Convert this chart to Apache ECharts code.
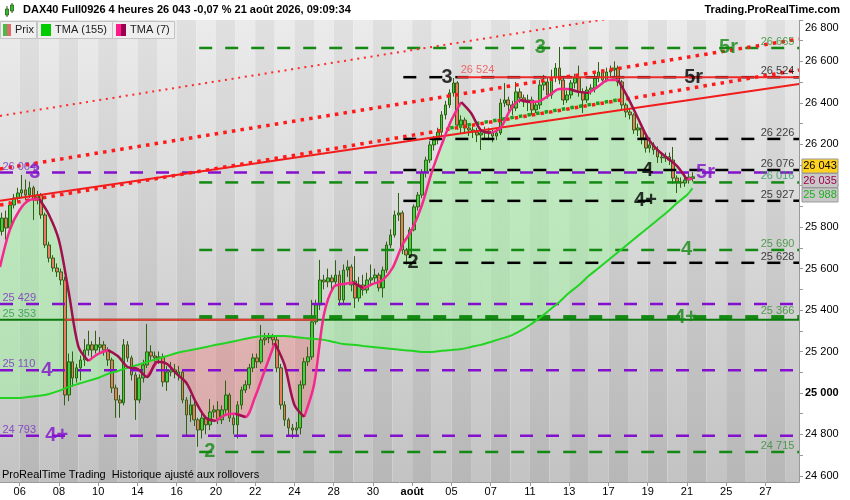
<!DOCTYPE html>
<html><head><meta charset="utf-8">
<script src="https://cdn.jsdelivr.net/npm/echarts@6/dist/echarts.min.js"></script>
<style>html,body{margin:0;padding:0;background:#fff}#c{width:850px;height:500px}</style>
</head><body><div id="c"></div>
<script>
// ---------- DATA ----------
const dayLabels = ['03','06','07','08','09','10','13','14','15','16','17','20','21','22','23','24','27','28','29','30','31','août','04','05','06','07','10','11','12','13','14','17','18','19','20','21','24','25','26','27','28'];
const labelDays = [1,3,5,7,9,11,13,15,17,19,21,23,25,27,29,31,33,35,37,39];
const yTicks = [24600,24800,25000,25200,25400,25600,25800,26000,26200,26400,26600,26800];
const yTickMarks = [24600,24700,24800,24900,25000,25100,25200,25300,25400,25500,25600,25700,25800,25900,26000,26100,26200,26300,26400,26500,26600,26700,26800];
const candlesPerDay = 5;
// [open, close, low, high] for each 4h bar
const candles = [
[25780,25844,25760,25870],[25844,25796,25740,25880],[25796,25907,25790,25925],[25907,25941,25890,25960],[25941,25965,25925,25990],
[25965,25980,25945,26052],[25980,25955,25930,26030],[25955,25990,25940,26020],[25990,25931,25835,26000],[25931,25955,25910,25975],
[25955,25859,25840,25965],[25859,25714,25700,25870],[25714,25651,25630,25730],[25651,25603,25585,25665],[25603,25584,25560,25625],
[25584,25545,25520,25600],[25545,24990,24940,25560],[24990,25150,24960,25190],[25150,25072,25030,25200],[25072,25121,25050,25140],
[25121,25159,25060,25180],[25159,25207,25130,25260],[25207,25232,25180,25300],[25232,25207,25170,25250],[25207,25232,25190,25300],
[25220,25232,25190,25270],[25232,25207,25180,25250],[25207,25159,25130,25220],[25159,25024,25000,25170],[25024,24966,24880,25040],
[24966,24952,24880,24990],[24952,25232,24940,25260],[25232,25169,25150,25250],[25169,25087,25060,25180],[25087,24966,24870,25100],
[24966,25072,24950,25090],[25072,25135,25050,25160],[25135,25198,25120,25333],[25198,25178,25160,25230],[25178,25169,25150,25200],
[25169,25174,25140,25200],[25174,25053,25030,25190],[25053,25101,25010,25130],[25101,25111,25080,25150],[25111,25101,25070,25140],
[25085,25101,25060,25130],[25101,24966,24950,25110],[24966,24894,24788,24980],[24894,24942,24860,24990],[24942,24870,24840,24960],
[24870,24821,24740,24880],[24821,24879,24780,24900],[24879,24846,24800,24890],[24846,24908,24820,24970],[24908,24918,24880,24940],
[24918,24870,24850,24960],[24870,24918,24850,24940],[24918,24990,24900,25060],[24990,24879,24860,25000],[24879,24846,24800,24900],
[24846,24942,24780,24960],[24942,25014,24920,25030],[25014,25039,25000,25060],[25039,25121,25020,25140],[25121,25169,25100,25190],
[25169,25150,25120,25190],[25150,25256,25140,25328],[25256,25265,25230,25290],[25265,25270,25240,25290],[25270,25256,25230,25285],
[25256,25121,25100,25270],[25121,24942,24920,25140],[24942,24870,24840,24960],[24870,24831,24790,24880],[24831,24821,24780,24850],
[24821,24831,24790,24860],[24831,25039,24800,25060],[25039,25150,25020,25170],[25150,25174,25130,25222],[25174,25343,25160,25449],
[25343,25425,25330,25450],[25425,25545,25400,25642],[25545,25536,25500,25570],[25536,25555,25510,25600],[25555,25536,25490,25570],
[25536,25569,25520,25640],[25569,25449,25420,25590],[25449,25593,25430,25620],[25593,25608,25560,25640],[25608,25521,25490,25620],
[25540,25458,25410,25660],[25458,25521,25440,25560],[25521,25497,25470,25570],[25497,25545,25480,25580],[25545,25555,25520,25620],
[25555,25569,25530,25600],[25569,25507,25490,25580],[25507,25593,25460,25610],[25593,25714,25580,25730],[25714,25762,25700,25790],
[25762,25859,25750,25880],[25859,25869,25830,25965],[25869,25690,25670,25880],[25690,25666,25620,25700],[25666,25787,25650,25800],
[25787,25898,25780,25910],[25898,25955,25880,25970],[25955,26066,25940,26080],[26066,26124,26040,26140],[26124,26197,26110,26215],
[26197,26221,26170,26240],[26221,26259,26200,26280],[26259,26342,26240,26360],[26342,26390,26320,26410],[26390,26448,26375,26465],
[26448,26496,26430,26520],[26496,26293,26270,26505],[26293,26317,26250,26340],[26317,26279,26250,26330],[26279,26269,26240,26290],
[26269,26259,26230,26290],[26259,26245,26210,26280],[26245,26255,26173,26275],[26255,26264,26230,26285],[26264,26255,26220,26280],
[26255,26240,26210,26270],[26240,26255,26220,26275],[26255,26399,26245,26420],[26399,26414,26380,26496],[26414,26390,26360,26430],
[26390,26375,26340,26410],[26375,26453,26360,26501],[26453,26424,26400,26470],[26424,26404,26380,26440],[26404,26414,26360,26440],
[26414,26366,26340,26430],[26366,26390,26350,26410],[26390,26486,26370,26510],[26486,26501,26460,26535],[26501,26438,26420,26520],
[26438,26520,26420,26560],[26520,26568,26500,26592],[26568,26510,26490,26670],[26510,26414,26390,26530],[26414,26438,26400,26460],
[26438,26496,26420,26510],[26496,26520,26470,26540],[26520,26453,26430,26580],[26453,26414,26351,26470],[26414,26462,26400,26480],
[26462,26472,26440,26490],[26472,26520,26450,26540],[26520,26549,26500,26597],[26549,26510,26490,26560],[26510,26549,26500,26570],
[26549,26559,26520,26580],[26559,26568,26530,26600],[26568,26501,26480,26580],[26501,26390,26370,26510],[26390,26356,26330,26400],
[26356,26342,26320,26370],[26342,26269,26250,26350],[26269,26279,26240,26300],[26279,26231,26200,26290],[26231,26182,26160,26240],
[26182,26197,26160,26220],[26197,26173,26150,26210],[26173,26139,26110,26190],[26139,26134,26110,26160],[26134,26139,26115,26160],
[26139,26124,26100,26160],[26124,26037,26010,26187],[26037,26018,25965,26050],[26018,26013,25990,26040],[26013,26028,25995,26060],
[26028,26042,26010,26060],[26035,26043,26020,26065]
];
// moving averages, read at half-day steps (time in trading days since 3 July)
const tmaTime = [0,0.5,1,1.5,2,2.5,3,3.5,4,4.5,5,5.5,6,6.5,7,7.5,8,8.5,9,9.5,10,10.5,11,11.5,12,12.5,13,13.5,14,14.5,15,15.5,16,16.5,17,17.5,18,18.5,19,19.5,20,20.5,21,21.5,22,22.5,23,23.5,24,24.5,25,25.5,26,26.5,27,27.5,28,28.5,29,29.5,30,30.5,31,31.5,32,32.5,33,33.5,34,34.5,35,35.28];
const tma7 = [25608,25787,25883,25931,25936,25859,25738,25487,25222,25154,25188,25207,25178,25125,25116,25077,25150,25140,25092,25048,24952,24879,24865,24894,24899,24884,24981,25111,25241,25135,24942,24884,25039,25376,25511,25526,25531,25507,25526,25545,25603,25714,25791,25907,26066,26197,26317,26404,26351,26269,26255,26279,26366,26414,26404,26409,26438,26467,26467,26453,26448,26481,26510,26510,26424,26327,26231,26173,26134,26095,26030,26035];
const tma155 = [24976,24976,24976,24981,24986,24995,25010,25029,25044,25058,25072,25092,25106,25121,25135,25150,25164,25178,25193,25203,25212,25222,25232,25241,25251,25261,25270,25275,25275,25275,25270,25265,25261,25256,25246,25236,25232,25227,25222,25217,25212,25207,25203,25198,25198,25203,25207,25212,25222,25232,25246,25261,25275,25299,25328,25362,25400,25439,25483,25521,25565,25603,25642,25680,25719,25758,25796,25835,25873,25917,25955,25988];
const levelsPurple = [26064, 25429, 25110, 24793];
const levelsGreen = [26665, 26016, 25690, 25366, 24715];
const levelsBlack = [26524, 26226, 26076, 25927, 25628];
const supportLevel = 25353;
const resistanceLevel = 26524;
const lastPrice = 26043, lastTma7 = 26035, lastTma155 = 25988;
// trend lines [time, price]
const trendSolid = [[0,25927],[40.71,26491]];
const channelLow = [[0,25907],[40.71,26559]];
const channelHigh = [[0,26081],[40.71,26708]];
const channelTop = [[0,26337],[40.71,26953]];
const greenDots = [[22.94,26279],[31.46,26414]];
// wave annotations: text, colour group, time, price
const waveLabels = [
 ['3','P',1.77,26064],['4','P',2.38,25110],['4+','P',2.89,24793],['2','G',10.69,24715],
 ['3','G',27.53,26665],['5r','G',37.12,26665],['3','K',22.78,26524],['5r','K',35.34,26524],
 ['4','K',32.99,26076],['5r','P',35.95,26064],['4+','K',32.89,25927],['4','G',34.98,25690],
 ['2','K',21.05,25628],['4+','G',34.93,25366]
];

// ---------- CHART ----------
const FF = '"Liberation Sans", Arial, sans-serif';
const X_MAX = 40.71;
const COL = {P:'#8210cc', G:'#148a14', K:'#000000'};
const fmt = v => String(v).replace(/\B(?=(\d{3})+(?!\d))/g, ' ');
const chart = echarts.init(document.getElementById('c'), null, {renderer:'canvas'});

const candleData = candles.map((c, i) => {
  const d = Math.floor(i / candlesPerDay), k = i % candlesPerDay;
  return [d + (k + 0.5) / candlesPerDay, c[0], c[1], c[2], c[3]];
});
const nT = tmaTime.length;
const fillData = [];
for (let i = 0; i < nT - 1; i++) fillData.push([tmaTime[i], tmaTime[i+1], tma7[i], tma7[i+1], tma155[i], tma155[i+1]]);
const rise = [], fall = [];
for (let i = 0; i < nT; i++) {
  const r1 = i > 0 && tma7[i] >= tma7[i-1], r2 = i < nT-1 && tma7[i+1] >= tma7[i];
  const f1 = i > 0 && tma7[i] < tma7[i-1], f2 = i < nT-1 && tma7[i+1] < tma7[i];
  rise.push([tmaTime[i], (r1||r2) ? tma7[i] : null]);
  fall.push([tmaTime[i], (f1||f2) ? tma7[i] : null]);
}
const bandData = [];
for (let d = 0; d <= 41; d++) bandData.push([d, 25000]);

function renderBand(params, api) {
  const d = api.value(0), cs = params.coordSys;
  let x0 = api.coord([d, 25000])[0], x1 = api.coord([d + 1, 25000])[0];
  x0 = Math.max(x0, cs.x); x1 = Math.min(x1, cs.x + cs.width);
  if (x1 <= x0) return;
  const light = d % 2 === 0;
  return {type:'rect', shape:{x:x0, y:cs.y, width:x1 - x0, height:cs.height},
    style:{fill:new echarts.graphic.LinearGradient(0,0,0,1,[
      {offset:0, color: light ? '#ebebeb' : '#e0e0e0'},
      {offset:1, color: light ? '#c3c3c3' : '#b7b7b7'}])}};
}
function renderFill(params, api) {
  const u0 = api.value(0), u1 = api.value(1), a0 = api.value(2), a1 = api.value(3), b0 = api.value(4), b1 = api.value(5);
  const A0 = api.coord([u0,a0]), A1 = api.coord([u1,a1]), B0 = api.coord([u0,b0]), B1 = api.coord([u1,b1]);
  const G = 'rgba(160,245,160,0.5)', R = 'rgba(255,120,120,0.35)';
  const d0 = a0 - b0, d1 = a1 - b1;
  if (d0 * d1 >= 0) {
    return {type:'polygon', shape:{points:[A0,A1,B1,B0]}, style:{fill:(d0 + d1) >= 0 ? G : R}};
  }
  const t = d0 / (d0 - d1);
  const P = [A0[0] + (A1[0]-A0[0])*t, A0[1] + (A1[1]-A0[1])*t];
  return {type:'group', children:[
    {type:'polygon', shape:{points:[A0,P,B0]}, style:{fill:d0 > 0 ? G : R}},
    {type:'polygon', shape:{points:[P,A1,B1]}, style:{fill:d1 > 0 ? G : R}}]};
}
function hLine(price, start, end, color, width, dash, z) {
  return {type:'line', data:[[start, price],[end, price]], symbol:'none', silent:true, z:z||3,
    lineStyle:{color, width, type:dash, cap:'butt'}, animation:false};
}
function tLine(pts, color, width, dash, z) {
  return {type:'line', data:pts, symbol:'none', silent:true, z:z||4,
    lineStyle:{color, width, type:dash, cap:'butt'}, animation:false};
}
const DASH = [13,13];
const GREEN_START = 10.15, BLACK_START = 20.55;
const series = [];
series.push({type:'custom', renderItem:renderBand, data:bandData, encode:{x:0,y:1}, silent:true, z:0, clip:true});
series.push({type:'custom', renderItem:renderFill, data:fillData, encode:{x:[0,1], y:[2,3,4,5]}, silent:true, z:1, clip:true});
series.push({type:'candlestick', data:candleData, encode:{x:0, y:[1,2,3,4]}, barWidth:3.2, z:2, silent:true,
  itemStyle:{color:'#40d240', color0:'#ea7a62', borderColor:'#2f6014', borderColor0:'#2f6014', borderWidth:1}});
levelsPurple.forEach(p => series.push(hLine(p, 0, X_MAX, COL.P, 2.5, DASH)));
levelsGreen.forEach(p => series.push(hLine(p, GREEN_START, X_MAX, COL.G, p === 25366 ? 4 : 2.5, DASH)));
levelsBlack.forEach(p => series.push(hLine(p, BLACK_START, X_MAX, '#000', 2.5, DASH)));
series.push(hLine(supportLevel, 0, X_MAX, '#0b7a0b', 2, 'solid'));
series.push(hLine(supportLevel, 3.3, 16.15, '#e83a3a', 2, 'solid'));
series.push(hLine(resistanceLevel, 23.3, X_MAX, '#ee2a2a', 2, 'solid'));
series.push(tLine(trendSolid, '#f21c1c', 2, 'solid'));
series.push(tLine(channelLow, '#ff1a1a', 3.5, [3.5,5.2]));
series.push(tLine(channelHigh, '#ff1a1a', 3.5, [3.5,5.2]));
series.push(tLine(channelTop, '#ff2a2a', 2, [2,4.7]));
series.push(tLine(greenDots, '#18a018', 3.5, [3.5,5.2]));
series.push({type:'line', data:tmaTime.map((t,i)=>[t, tma155[i]]), symbol:'none', smooth:0.3, z:5, silent:true,
  lineStyle:{color:'#22d422', width:2}});
series.push({type:'line', data:rise, symbol:'none', smooth:0.3, z:6, silent:true, connectNulls:false,
  lineStyle:{color:'#f5288c', width:2.5}});
series.push({type:'line', data:fall, symbol:'none', smooth:0.3, z:6, silent:true, connectNulls:false,
  lineStyle:{color:'#a0104f', width:2.5}});

// text labels
const txt = [];
const small = (u, p, text, color, pos, off) => txt.push({value:[u,p], label:{show:true, formatter:text, color,
  fontSize:11, fontFamily:FF, position:pos, distance:0, offset:off}});
const RIGHT_U = 40.50, LEFT_U = 0.1;
levelsGreen.forEach(p => small(RIGHT_U, p, fmt(p), p === 26016 ? '#2a9a5e' : '#2f8f2f', 'left', [0,-6]));
levelsBlack.forEach(p => small(RIGHT_U, p, fmt(p), '#111', 'left', [0,-6]));
levelsPurple.forEach(p => small(LEFT_U, p, fmt(p), '#7a2cc4', 'right', [0,-6]));
small(LEFT_U, supportLevel, fmt(supportLevel), '#2a9a4a', 'right', [0,-6]);
small(23.45, resistanceLevel, fmt(resistanceLevel), '#f04848', 'right', [0,-7]);
waveLabels.forEach(w => txt.push({value:[w[2], w[3]], label:{show:true, formatter:w[0], color:COL[w[1]],
  fontSize:20, fontWeight:'bold', fontFamily:FF, position:'inside'}}));
series.push({type:'scatter', data:txt, symbolSize:1, itemStyle:{color:'rgba(0,0,0,0)'}, z:7, silent:true, clip:false});

const option = {
  animation:false,
  backgroundColor:'#ffffff',
  grid:{left:0, right:51, top:20, bottom:18},
  xAxis:{type:'value', min:0, max:X_MAX,
    axisLine:{show:true, onZero:false, lineStyle:{color:'#9a9a9a'}},
    axisTick:{show:true, length:4, lineStyle:{color:'#9a9a9a'}, customValues:labelDays},
    axisLabel:{customValues:labelDays, margin:4, color:'#000', fontSize:11, fontFamily:FF,
      formatter:v => { const s = dayLabels[Math.round(v)] || ''; return s === 'août' ? '{b|août}' : s; },
      rich:{b:{fontWeight:'bold', fontSize:11, fontFamily:FF, color:'#000'}}},
    splitLine:{show:false}},
  yAxis:{type:'value', position:'right', min:24570, max:26800,
    axisLine:{show:true, onZero:false, lineStyle:{color:'#9a9a9a'}},
    axisTick:{show:true, inside:false, length:4, lineStyle:{color:'#9a9a9a'}, customValues:yTickMarks},
    axisLabel:{customValues:yTicks, margin:6, color:'#000', fontSize:11, fontFamily:FF,
      formatter:v => v === 25000 ? '{b|' + fmt(v) + '}' : (v === 26800 ? '{t|' + fmt(v) + '}' : fmt(v)),
      rich:{b:{fontWeight:'bold', fontSize:11, fontFamily:FF, color:'#000'},
            t:{fontSize:11, fontFamily:FF, color:'#000', padding:[16,0,0,0]}}},
    splitLine:{show:false}},
  series
};
chart.setOption(option);

// header, legend, footer and value tags
const F11 = '11px ' + FF, B11 = 'bold 11px ' + FF;
const yT7 = chart.convertToPixel({yAxisIndex:0}, lastTma7) + 2;
const tag = (yc, text, bg, fg) => [
  {type:'rect', shape:{x:802, y:yc - 7, width:36, height:14}, style:{fill:bg, stroke:'#9a9a9a', lineWidth:1}, z:100},
  {type:'text', style:{x:820, y:yc, text, font:F11, fill:fg, align:'center', verticalAlign:'middle'}, z:101}];
const g = [
  {type:'rect', shape:{x:0, y:0, width:850, height:20}, style:{fill:'#fff'}, z:90},
  {type:'line', shape:{x1:7, y1:6, x2:7, y2:17}, style:{stroke:'#2b5b10', lineWidth:1}, z:100},
  {type:'rect', shape:{x:5.5, y:9, width:3, height:6}, style:{fill:'#33bb33', stroke:'#2b5b10', lineWidth:0.8}, z:101},
  {type:'line', shape:{x1:12, y1:3, x2:12, y2:13}, style:{stroke:'#2b5b10', lineWidth:1}, z:100},
  {type:'rect', shape:{x:10.5, y:5, width:3, height:6}, style:{fill:'#33bb33', stroke:'#2b5b10', lineWidth:0.8}, z:101},
  {type:'text', style:{x:23, y:10, text:'DAX40 Full0926 4 heures 26 043 -0,07 % 21 août 2026, 09:09:34', font:B11, fill:'#000', verticalAlign:'middle'}, z:100},
  {type:'text', style:{x:840, y:10, text:'Trading.ProRealTime.com', font:B11, fill:'#000', align:'right', verticalAlign:'middle'}, z:100},
  {type:'rect', shape:{x:0.5, y:21.5, width:36, height:17}, style:{fill:'#efefef', stroke:'#c4c4c4'}, z:100},
  {type:'rect', shape:{x:3, y:24, width:4, height:12}, style:{fill:'#46bb46'}, z:101},
  {type:'rect', shape:{x:7, y:24, width:4, height:12}, style:{fill:'#e06a6a'}, z:101},
  {type:'text', style:{x:15, y:30, text:'Prix', font:F11, fill:'#222', verticalAlign:'middle'}, z:101},
  {type:'rect', shape:{x:37.5, y:21.5, width:75, height:17}, style:{fill:'#efefef', stroke:'#c4c4c4'}, z:100},
  {type:'rect', shape:{x:41, y:24, width:10, height:12}, style:{fill:'#00cc00'}, z:101},
  {type:'text', style:{x:55, y:30, text:'TMA (155)', font:F11, fill:'#222', verticalAlign:'middle'}, z:101},
  {type:'rect', shape:{x:112.5, y:21.5, width:62, height:17}, style:{fill:'#efefef', stroke:'#c4c4c4'}, z:100},
  {type:'rect', shape:{x:116, y:24, width:5, height:12}, style:{fill:'#ff1a8c'}, z:101},
  {type:'rect', shape:{x:121, y:24, width:5, height:12}, style:{fill:'#9b0050'}, z:101},
  {type:'text', style:{x:130, y:30, text:'TMA (7)', font:F11, fill:'#222', verticalAlign:'middle'}, z:101},
  {type:'text', style:{x:2, y:475, text:'ProRealTime Trading  Historique ajusté aux rollovers', font:F11, fill:'#000', verticalAlign:'middle'}, z:100}
].concat(tag(yT7 - 14.5, fmt(lastPrice), '#ffd21f', '#000'))
 .concat(tag(yT7, fmt(lastTma7), '#c8c8c8', '#a0004f'))
 .concat(tag(yT7 + 14.5, fmt(lastTma155), '#c8c8c8', '#20b020'));
chart.setOption({graphic:g});
</script></body></html>
